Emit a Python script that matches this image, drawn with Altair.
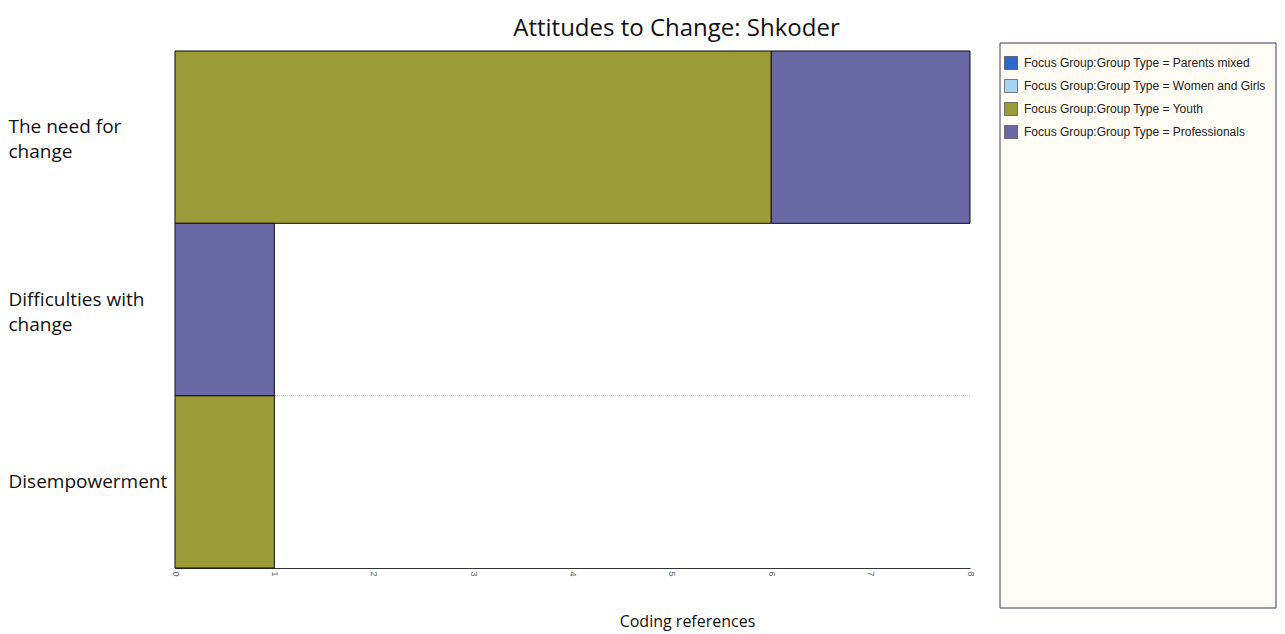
import altair as alt
import pandas as pd

# ---- data ----
categories = ["The need for change", "Difficulties with change", "Disempowerment"]
label_lines = {
    "The need for change": ["The need for", "change"],
    "Difficulties with change": ["Difficulties with", "change"],
    "Disempowerment": ["Disempowerment"],
}
groups = ["Parents mixed", "Women and Girls", "Youth", "Professionals"]
group_colors = ["#2f68cc", "#a8d4f4", "#9b9b37", "#6868a4"]
legend_prefix = "Focus Group:Group Type = "

# coding references per category, per group
parents_mixed = [0, 0, 0]
women_and_girls = [0, 0, 0]
youth = [6, 0, 1]
professionals = [2, 1, 0]

series = {
    "Parents mixed": parents_mixed,
    "Women and Girls": women_and_girls,
    "Youth": youth,
    "Professionals": professionals,
}

x_ticks = [0, 1, 2, 3, 4, 5, 6, 7, 8]

rows = []
for gi, g in enumerate(groups):
    for ci, c in enumerate(categories):
        v = series[g][ci]
        if v > 0:
            rows.append({"category": c, "group": legend_prefix + g, "order": gi, "value": v})
df = pd.DataFrame(rows)
grid_df = pd.DataFrame({"category": categories})
box_df = pd.DataFrame({"k": [0]})

label_expr = " : ".join(
    f"datum.label == '{c}' ? {label_lines[c]!r}" for c in categories
) + " : datum.label"
single_line = [c for c in categories if len(label_lines[c]) == 1]
offset_test = " || ".join(f"datum.label == '{c}'" for c in single_line)

y_scale = alt.Scale(domain=categories, paddingInner=0, paddingOuter=0)
x_scale = alt.Scale(domain=[0, 8], nice=False)

y_axis = alt.Axis(
    title=None,
    labelAlign="left",
    labelBaseline="middle",
    labelPadding=167,
    ticks=False,
    tickSize=0,
    labelFont="Open Sans",
    labelFontSize=19,
    labelColor="#111111",
    labelLimit=0,
    labelLineHeight=25,
    labelExpr=label_expr,
    labelOffset={"condition": {"test": offset_test, "value": 0}, "value": -10},
    domain=True,
    domainColor="#222222",
    grid=False,
)

grid = alt.Chart(grid_df).mark_rule(
    color="#bbbbbb", strokeDash=[1, 1], strokeWidth=1
).encode(
    y=alt.Y("category:N", scale=y_scale, sort=categories, bandPosition=0, axis=y_axis),
)

bars = alt.Chart(df).mark_bar(stroke="#111111", strokeWidth=1).encode(
    y=alt.Y("category:N", scale=y_scale, sort=categories, axis=y_axis),
    x=alt.X(
        "value:Q",
        stack="zero",
        scale=x_scale,
        axis=alt.Axis(
            values=x_ticks,
            title="Coding references",
            titleFont="Open Sans",
            titleFontSize=16,
            titleFontWeight="normal",
            titleColor="#111111",
            titleX=512,
            titleY=45,
            labelAngle=90,
            labelFontSize=9,
            labelFont="Liberation Sans",
            labelColor="#666666",
            labelPadding=3,
            ticks=False,
            grid=False,
            domainColor="#333333",
        ),
    ),
    color=alt.Color(
        "group:N",
        scale=alt.Scale(
            domain=[legend_prefix + g for g in groups], range=group_colors
        ),
        legend=alt.Legend(
            title=None,
            orient="none",
            legendX=829,
            legendY=5,
            symbolType="square",
            symbolSize=169,
            symbolStrokeColor="#333333",
            symbolStrokeWidth=0.6,
            symbolOpacity=1,
            labelFont="Liberation Sans",
            labelFontSize=12,
            labelColor="#222222",
            labelLimit=0,
            rowPadding=7,
            padding=0,
            labelOffset=6,
        ),
    ),
    order=alt.Order("order:Q"),
)

box = alt.Chart(box_df).mark_rect(
    fill="#fffcf5", stroke="#3a3a58", strokeWidth=1
).encode(
    x=alt.value(825), x2=alt.value(1101), y=alt.value(-8), y2=alt.value(557)
)

chart = alt.layer(box, grid, bars).properties(
    width=795,
    height=517,
    padding={"left": 0, "top": 8, "right": 0, "bottom": 10},
    title=alt.TitleParams(
        "Attitudes to Change: Shkoder",
        font="Open Sans",
        fontSize=24,
        fontWeight="normal",
        color="#111111",
        dx=104,
        offset=2,
    ),
).configure_view(stroke=None)

chart.save("out.html", embed_options={"renderer": "svg", "actions": False})
